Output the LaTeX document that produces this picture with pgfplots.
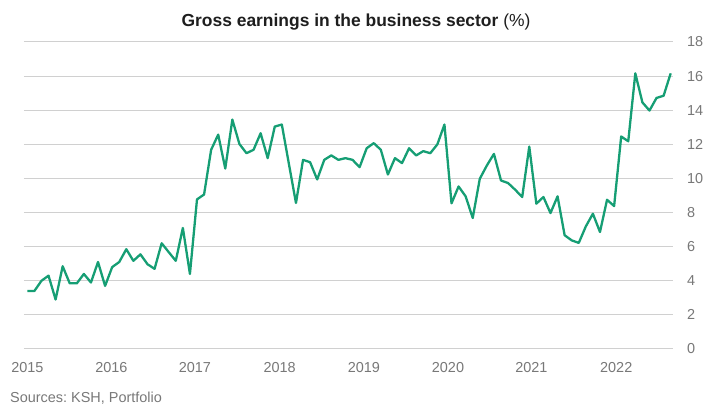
\documentclass[border=0pt]{standalone}
\usepackage{pgfplots}
\pgfplotsset{compat=1.18}
\usepackage{fontspec}
\setmainfont{Liberation Sans}
\frenchspacing
\definecolor{linegreen}{RGB}{22,158,116}
\definecolor{gridgray}{RGB}{208,208,208}
\definecolor{tickgray}{RGB}{120,120,120}
\definecolor{ttl}{RGB}{30,30,30}
\pgfplotstableread{
m v
0 3.4
1 3.4
2 4.0
3 4.3
4 2.9
5 4.85
6 3.85
7 3.85
8 4.4
9 3.9
10 5.1
11 3.7
12 4.8
13 5.1
14 5.85
15 5.17
16 5.55
17 4.97
18 4.7
19 6.2
20 5.68
21 5.17
22 7.1
23 4.4
24 8.77
25 9.06
26 11.68
27 12.57
28 10.58
29 13.45
30 12.02
31 11.48
32 11.68
33 12.65
34 11.19
35 13.04
36 13.16
37 10.85
38 8.56
39 11.09
40 10.95
41 9.94
42 11.09
43 11.35
44 11.09
45 11.19
46 11.09
47 10.66
48 11.77
49 12.07
50 11.68
51 10.23
52 11.19
53 10.9
54 11.77
55 11.35
56 11.6
57 11.48
58 12.0
59 13.16
60 8.54
61 9.53
62 8.95
63 7.68
64 9.98
65 10.76
66 11.44
67 9.88
68 9.73
69 9.34
70 8.91
71 11.87
72 8.52
73 8.91
74 7.97
75 8.95
76 6.67
77 6.37
78 6.22
79 7.19
80 7.93
81 6.86
82 8.75
83 8.38
84 12.46
85 12.18
86 16.16
87 14.46
88 13.98
89 14.72
90 14.85
91 16.16
}\earnings
\begin{document}
\begin{tikzpicture}
\path[use as bounding box] (0,0) rectangle (714bp,409bp);
\begin{axis}[
  at={(24bp,60bp)}, anchor=south west,
  scale only axis, width=649bp, height=307bp,
  xmin=-0.47, xmax=91.33, ymin=0, ymax=18,
  axis line style={draw=none},
  major tick length=0pt,
  ytick={0,2,...,18},
  ymajorgrids, grid style={gridgray, line width=1bp},
  yticklabel pos=right,
  /pgf/number format/assume math mode=true,
  yticklabel style={anchor=west, inner sep=0pt, xshift=14bp, font=\fontsize{14.5}{16}\selectfont, text=tickgray},
  xtick={0,11.9,23.7,35.7,47.6,59.5,71.3,83.3},
  xticklabels={2015,2016,2017,2018,2019,2020,2021,2022},
  xticklabel style={anchor=center, inner sep=0pt, yshift=-19bp, font=\fontsize{14.5}{16}\selectfont, text=tickgray},
  clip=false,
]
\addplot[linegreen, line width=2.3bp, line join=round, mark=none] table[x=m, y=v] {\earnings};
\end{axis}
\node[anchor=center, text=ttl, font=\fontsize{17.5}{20}\selectfont] at (356bp,387bp) {\textbf{Gross earnings in the business sector} (\%)};
\node[anchor=west, inner sep=0pt, text=tickgray, font=\fontsize{14.5}{16}\selectfont] at (10bp,11bp) {Sources: KSH, Portfolio};
\end{tikzpicture}
\end{document}
